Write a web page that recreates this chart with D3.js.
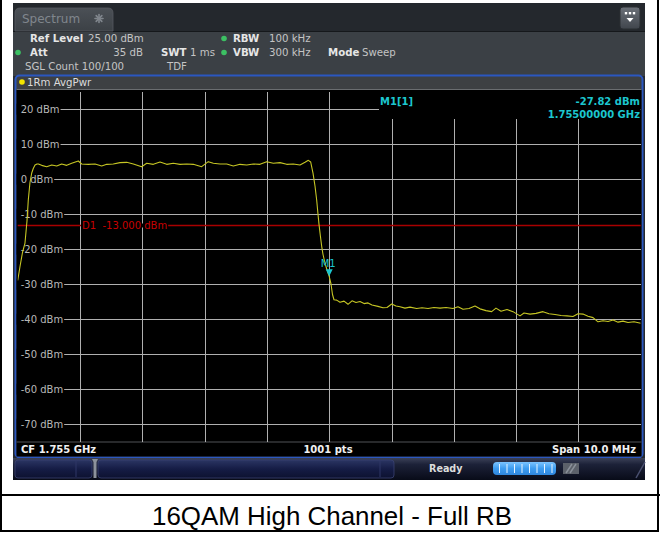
<!DOCTYPE html>
<html>
<head>
<meta charset="utf-8">
<script src="https://cdn.jsdelivr.net/npm/d3@7/dist/d3.min.js"></script>
<style>
  html, body { margin: 0; padding: 0; background: #fff; }
  svg { display: block; }
  text { font-family: "DejaVu Sans", sans-serif; }
</style>
</head>
<body>
<svg id="chart" width="660" height="533"></svg>
<script>
// ---- Trace data: 1Rm AvgPwr (frequency in MHz, level in dBm) ----
const freqMHz = [
  1750.000,1750.037,1750.077,1750.117,1750.149,1750.170,1750.197,1750.225,1750.250,1750.278,1750.310,
  1750.331,1750.385,1750.465,1750.546,1750.626,1750.706,1750.787,1750.867,1750.973,
  1751.027,1751.133,1751.241,1751.348,1751.429,1751.534,1751.642,1751.750,1751.856,1751.990,
  1752.071,1752.177,1752.284,1752.392,1752.498,1752.605,1752.713,1752.819,1752.953,
  1753.059,1753.140,1753.247,1753.355,1753.461,1753.568,1753.676,1753.782,1753.889,1753.997,
  1754.103,1754.210,1754.318,1754.424,1754.531,1754.612,1754.665,1754.703,
  1754.740,1754.772,1754.799,1754.820,1754.836,1754.860,1754.880,1754.900,1754.932,1754.965,
  1755.000,1755.029,1755.053,1755.077,1755.120,1755.173,1755.238,1755.302,1755.366,1755.430,
  1755.494,1755.559,1755.623,1755.687,1755.783,1755.864,1755.928,
  1756.003,1756.072,1756.136,1756.216,1756.297,1756.404,1756.490,1756.586,1756.682,1756.779,1756.875,1756.987,
  1757.067,1757.148,1757.244,1757.340,1757.421,1757.517,1757.608,1757.677,1757.758,1757.854,1757.950,
  1758.063,1758.127,1758.223,1758.320,1758.432,1758.528,1758.625,1758.721,1758.817,1758.913,1758.994,
  1759.074,1759.154,1759.235,1759.315,1759.395,1759.476,1759.556,1759.636,1759.716,1759.796,1759.892,
  1760.000
];
const levelDbm = [
  -29.0,-25.0,-21.0,-18.3,-12.0,-6.0,-1.0,1.7,3.0,4.0,4.3,
  4.29,3.90,3.52,4.00,3.71,4.29,3.90,4.48,5.14,
  4.29,4.19,4.29,3.71,4.19,4.29,4.67,4.76,4.29,3.52,
  4.48,4.19,4.86,4.19,4.48,4.19,4.29,4.19,3.52,
  4.95,4.48,4.29,4.29,3.71,4.19,4.00,4.29,4.19,4.95,
  4.48,4.67,4.19,4.29,4.00,4.76,5.33,4.86,
  1.7,-2.0,-6.0,-10.0,-12.9,-16.5,-19.3,-21.5,-24.0,-26.0,
  -27.82,-30.0,-33.0,-34.5,-34.6,-35.2,-34.9,-35.8,-34.8,-35.3,
  -35.0,-35.6,-35.4,-36.0,-36.4,-36.8,-36.7,
  -35.7,-36.3,-36.5,-36.9,-36.6,-37.0,-36.8,-37.0,-36.7,-36.9,-36.7,-37.0,
  -36.5,-37.2,-37.0,-36.3,-37.1,-37.6,-37.9,-36.9,-37.8,-37.3,-37.9,
  -39.1,-38.3,-38.6,-38.4,-37.9,-38.5,-38.7,-39.0,-39.1,-39.3,-38.5,
  -38.6,-39.2,-39.6,-40.8,-40.5,-40.7,-40.3,-40.9,-40.6,-41.0,-40.8,
  -41.2
];

// ---- Axis settings ----
const freqDomain = [1750, 1760];          // CF 1.755 GHz, span 10 MHz
const levelDomain = [-75, 25];            // ref level 25 dBm, 10 dB/div
const levelTicks = [20, 10, 0, -10, -20, -30, -40, -50, -60, -70];
const freqTicks = [1751, 1752, 1753, 1754, 1755, 1756, 1757, 1758, 1759];

// ---- Display line and marker ----
const displayLineName = "D1";
const displayLineDbm = -13.0;
const markerName = "M1";
const markerFreqMHz = 1755.0;
const markerLevelDbm = -27.82;

// ---- Footer labels ----
const footerLeft = "CF 1.755 GHz";
const footerMid = "1001 pts";
const footerRight = "Span 10.0 MHz";
const caption = "16QAM High Channel - Full RB";

const svg = d3.select("#chart");
const defs = svg.append("defs");

const plot = { left: 17.7, right: 640.7, top: 91.5, bottom: 441.5 };
const x = d3.scaleLinear().domain(freqDomain).range([plot.left, plot.right]);
const y = d3.scaleLinear().domain(levelDomain).range([plot.bottom, plot.top]);

// ---------- gradients ----------
function vGrad(id, stops) {
  const g = defs.append("linearGradient").attr("id", id)
    .attr("x1", 0).attr("y1", 0).attr("x2", 0).attr("y2", 1);
  stops.forEach(([o, c]) => g.append("stop").attr("offset", o).attr("stop-color", c));
}
vGrad("statusGrad", [["0%", "#3b4157"], ["30%", "#1c2138"], ["100%", "#080b18"]]);
vGrad("segGrad", [["0%", "#2b3563"], ["50%", "#151c45"], ["100%", "#0d1230"]]);
vGrad("tabGrad", [["0%", "#4b5056"], ["100%", "#3c4146"]]);
vGrad("btnGrad", [["0%", "#6b7078"], ["100%", "#40454c"]]);
vGrad("progGrad", [["0%", "#7cc4ff"], ["50%", "#3d9cf0"], ["100%", "#2f86dc"]]);

// ---------- page frame ----------
svg.append("rect").attr("x", 1).attr("y", -4).attr("width", 657).attr("height", 535)
  .attr("fill", "#fff").attr("stroke", "#000").attr("stroke-width", 2);
svg.append("line").attr("x1", 0).attr("x2", 660).attr("y1", 495).attr("y2", 495)
  .attr("stroke", "#000").attr("stroke-width", 2);
svg.append("text").attr("x", 152).attr("y", 525)
  .attr("textLength", 360).attr("lengthAdjust", "spacingAndGlyphs")
  .style("font-family", "'Liberation Sans Narrow', 'Arial Narrow', 'Liberation Sans', Arial, sans-serif")
  .style("font-size", "25px")
  .attr("fill", "#000").text(caption);

// ---------- instrument window ----------
svg.append("rect").attr("x", 13).attr("y", 3).attr("width", 632).attr("height", 477).attr("fill", "#24282d");
svg.append("rect").attr("x", 13).attr("y", 31).attr("width", 632).attr("height", 45).attr("fill", "#3b4045");
svg.append("line").attr("x1", 13).attr("x2", 645).attr("y1", 31.5).attr("y2", 31.5).attr("stroke", "#15181b");

// tab
svg.append("path")
  .attr("d", "M15,31 L15,13 Q15,8 20,8 L108,8 Q113,8 113,13 L113,31 Z")
  .attr("fill", "url(#tabGrad)").attr("stroke", "#55595f").attr("stroke-width", 0.8);
svg.append("text").attr("x", 22).attr("y", 23).attr("fill", "#80868d")
  .style("font-size", "12px").text("Spectrum");
(function star(cx, cy, r) {
  const g = svg.append("g").attr("stroke", "#80868d").attr("stroke-width", 1.6).attr("stroke-linecap", "round");
  for (let i = 0; i < 4; i++) {
    const a = i * Math.PI / 4;
    g.append("line").attr("x1", cx - r * Math.cos(a)).attr("y1", cy - r * Math.sin(a))
      .attr("x2", cx + r * Math.cos(a)).attr("y2", cy + r * Math.sin(a));
  }
})(99, 18.5, 4);

// menu button (top right)
svg.append("rect").attr("x", 620).attr("y", 7).attr("width", 20).attr("height", 22).attr("rx", 3)
  .attr("fill", "url(#btnGrad)").attr("stroke", "#2a2e33");
[626, 630, 634].forEach(cx => svg.append("rect").attr("x", cx - 1.2).attr("y", 12).attr("width", 2.4).attr("height", 2.4).attr("fill", "#fff"));
svg.append("path").attr("d", "M626.5,18 L633.5,18 L630,22 Z").attr("fill", "#fff");

// info panel
const info = svg.append("g").style("font-size", "10.2px");
function t(xp, yp, s, opts = {}) {
  return info.append("text").attr("x", xp).attr("y", yp)
    .attr("fill", opts.bold ? "#e6e6e6" : "#c4c4c4")
    .style("font-weight", opts.bold ? "bold" : "normal")
    .attr("text-anchor", opts.anchor || "start").text(s);
}
function dot(cx, cy) {
  info.append("circle").attr("cx", cx).attr("cy", cy).attr("r", 2.8).attr("fill", "#3cc063");
}
t(30, 42, "Ref Level", { bold: true }); t(88, 42, "25.00 dBm");
dot(224, 38.5); t(233, 42, "RBW", { bold: true }); t(269, 42, "100 kHz");
dot(18, 52.5); t(30, 56, "Att", { bold: true }); t(143, 56, "35 dB", { anchor: "end" });
t(161, 56, "SWT", { bold: true }); t(190, 56, "1 ms");
dot(224, 52.5); t(233, 56, "VBW", { bold: true }); t(269, 56, "300 kHz");
t(328, 56, "Mode", { bold: true }); t(362, 56, "Sweep");
t(25, 70, "SGL Count 100/100"); t(167, 70, "TDF");

// diagram frame and trace header
svg.append("rect").attr("x", 15.5).attr("y", 75.5).attr("width", 627).attr("height", 382).attr("rx", 4)
  .attr("fill", "#3d4043").attr("stroke", "#2b57c0").attr("stroke-width", 2);
svg.append("circle").attr("cx", 22).attr("cy", 82).attr("r", 2.8).attr("fill", "#f3e500");
svg.append("text").attr("x", 27).attr("y", 86).attr("fill", "#dcdcdc")
  .style("font-size", "10.2px").text("1Rm AvgPwr");

// plot and footer background
svg.append("rect").attr("x", 16.5).attr("y", 89.5).attr("width", 625).attr("height", 367).attr("fill", "#000");
svg.append("line").attr("x1", 16.5).attr("x2", 641.5).attr("y1", 89.5).attr("y2", 89.5).attr("stroke", "#6a6d70");
svg.append("line").attr("x1", 16.5).attr("x2", 641.5).attr("y1", plot.bottom + 0.5).attr("y2", plot.bottom + 0.5).attr("stroke", "#505356");

const gridColor = "#b0b0b0";

// vertical grid (frequency divisions)
const xAxis = d3.axisBottom(x).tickValues(freqTicks).tickSize(-(plot.bottom - plot.top)).tickFormat("");
const gx = svg.append("g").attr("transform", `translate(0,${plot.bottom})`).call(xAxis);
gx.select(".domain").remove();
gx.selectAll("line").attr("stroke", gridColor).attr("stroke-width", 1).attr("shape-rendering", "crispEdges");

// horizontal grid (level divisions) with labels inside the plot
const yAxis = d3.axisLeft(y).tickValues(levelTicks).tickSize(plot.right - plot.left)
  .tickFormat(d => `${d} dBm`);
const gy = svg.append("g").attr("transform", `translate(${plot.right},0)`).call(yAxis);
gy.select(".domain").remove();
gy.selectAll("line").attr("stroke", gridColor).attr("stroke-width", 1).attr("shape-rendering", "crispEdges");
gy.selectAll(".tick text")
  .attr("x", -(plot.right - plot.left) + 3)
  .attr("text-anchor", "start")
  .attr("fill", "#b8b8b8")
  .style("font-family", "'DejaVu Sans', sans-serif")
  .style("font-size", "10px");
gy.selectAll(".tick").each(function () {
  const tick = d3.select(this);
  const bb = tick.select("text").node().getBBox();
  tick.insert("rect", "text")
    .attr("x", -(plot.right - plot.left) - 1).attr("y", bb.y)
    .attr("width", bb.x + bb.width + (plot.right - plot.left) + 2).attr("height", bb.height)
    .attr("fill", "#000");
});

// marker readout box (top right)
const box = { x0: 379, y1: 119 };
svg.append("rect").attr("x", box.x0).attr("y", plot.top - 1).attr("width", plot.right - box.x0)
  .attr("height", box.y1 - plot.top + 1).attr("fill", "#000");
const mk = svg.append("g").attr("fill", "#1cc6cf").style("font-size", "10px").style("font-weight", "bold");
mk.append("text").attr("x", 380).attr("y", 105).text(`${markerName}[1]`);
mk.append("text").attr("x", 640).attr("y", 105).attr("text-anchor", "end")
  .text(`${markerLevelDbm.toFixed(2)} dBm`);
mk.append("text").attr("x", 640).attr("y", 118).attr("text-anchor", "end")
  .text(`${(markerFreqMHz / 1000).toFixed(8)} GHz`);

// display line D1
const yD1 = Math.round(y(displayLineDbm)) + 0.5;
svg.append("line").attr("x1", plot.left).attr("x2", plot.right).attr("y1", yD1).attr("y2", yD1)
  .attr("stroke", "#a80000").attr("stroke-width", 1.3);
const d1Text = svg.append("text").attr("x", 82).attr("y", yD1 + 3.6)
  .attr("fill", "#c80000").style("font-size", "10px").style("white-space", "pre")
  .text(`${displayLineName}  ${displayLineDbm.toFixed(3)} dBm`);
const d1bb = d1Text.node().getBBox();
svg.insert("rect", () => d1Text.node())
  .attr("x", d1bb.x - 1).attr("y", yD1 - 2).attr("width", d1bb.width + 2).attr("height", 4).attr("fill", "#000");

// trace
defs.append("clipPath").attr("id", "plotClip").append("rect")
  .attr("x", plot.left).attr("y", plot.top).attr("width", plot.right - plot.left).attr("height", plot.bottom - plot.top);
const traceData = d3.range(Math.min(freqMHz.length, levelDbm.length)).map(i => [freqMHz[i], levelDbm[i]]);
const line = d3.line().x(d => x(d[0])).y(d => y(d[1])).curve(d3.curveLinear);
svg.append("path").datum(traceData).attr("clip-path", "url(#plotClip)")
  .attr("d", line).attr("fill", "none").attr("stroke", "#c6c624").attr("stroke-width", 1.1)
  .attr("stroke-linejoin", "round");

// marker M1
const mx = x(markerFreqMHz), my = y(markerLevelDbm);
svg.append("path").attr("d", `M${mx - 3.5},${my - 7} L${mx + 3.5},${my - 7} L${mx},${my} Z`).attr("fill", "#1cc6cf");
svg.append("text").attr("x", mx - 1).attr("y", my - 9).attr("text-anchor", "middle")
  .attr("fill", "#1cc6cf").style("font-size", "10px").text(markerName);

// footer texts
const ft = svg.append("g").attr("fill", "#f0f0f0").style("font-size", "10px").style("font-weight", "bold");
ft.append("text").attr("x", 21).attr("y", 453).text(footerLeft);
ft.append("text").attr("x", 328).attr("y", 453).attr("text-anchor", "middle").text(footerMid);
ft.append("text").attr("x", 636).attr("y", 453).attr("text-anchor", "end").text(footerRight);

// ---------- status bar ----------
svg.append("rect").attr("x", 13).attr("y", 458).attr("width", 632).attr("height", 22).attr("fill", "url(#statusGrad)");
svg.append("rect").attr("x", 15).attr("y", 460).attr("width", 77).attr("height", 18).attr("rx", 3)
  .attr("fill", "url(#segGrad)").attr("stroke", "#3a4372").attr("stroke-width", 0.8);
svg.append("line").attr("x1", 76).attr("x2", 76).attr("y1", 461).attr("y2", 477).attr("stroke", "#2e3766");
svg.append("path").attr("d", "M92,459 L98,459 L96.5,462 L96.5,478 L93.5,478 L93.5,462 Z").attr("fill", "#8c929c");
svg.append("rect").attr("x", 98).attr("y", 460).attr("width", 296).attr("height", 18).attr("rx", 3)
  .attr("fill", "url(#segGrad)").attr("stroke", "#3a4372").attr("stroke-width", 0.8);
svg.append("line").attr("x1", 380).attr("x2", 380).attr("y1", 461).attr("y2", 477).attr("stroke", "#2e3766");
svg.append("text").attr("x", 429).attr("y", 472).attr("fill", "#dcdcdc")
  .style("font-size", "9.6px").style("font-weight", "bold").text("Ready");
svg.append("rect").attr("x", 493).attr("y", 462).attr("width", 63).attr("height", 13).attr("rx", 4)
  .attr("fill", "url(#progGrad)");
d3.range(8).forEach(i => svg.append("line").attr("x1", 499.5 + i * 7.5).attr("x2", 499.5 + i * 7.5)
  .attr("y1", 464).attr("y2", 473).attr("stroke", "#e8f4ff").attr("stroke-width", 1));
svg.append("rect").attr("x", 563).attr("y", 463).attr("width", 16).attr("height", 11).attr("fill", "#5c616a");
svg.append("path").attr("d", "M566,473 L572,464 M570,473 L576,464").attr("stroke", "#8a9099").attr("stroke-width", 1.5);
svg.append("line").attr("x1", 636).attr("x2", 645).attr("y1", 478).attr("y2", 462).attr("stroke", "#4a5070").attr("stroke-width", 1.5);
</script>
</body>
</html>
